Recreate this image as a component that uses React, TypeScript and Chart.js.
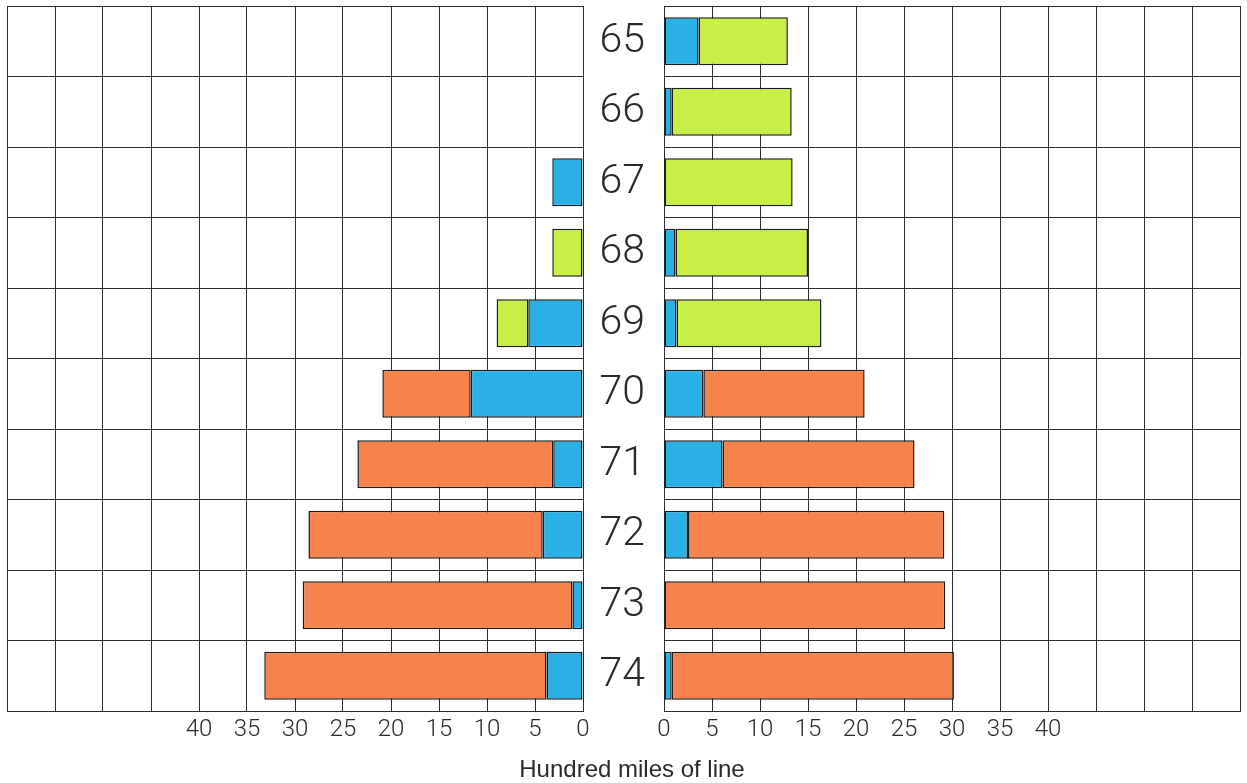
import React, { useEffect, useRef } from 'react';
import { Chart, registerables } from 'chart.js';

Chart.register(...registerables);

// ---- data ----
const years = ['65', '66', '67', '68', '69', '70', '71', '72', '73', '74'];

const leftBlue = [null, null, 3.2, null, 5.7, 11.7, 3.1, 4.2, 1.1, 3.8];
const leftGreen = [null, null, null, 3.2, 3.3, null, null, null, null, null];
const leftOrange = [null, null, null, null, null, 9.2, 20.4, 24.4, 28.1, 29.4];

const rightBlue = [3.6, 0.8, null, 1.2, 1.3, 4.1, 6.1, 2.5, null, 0.8];
const rightGreen = [9.3, 12.5, 13.4, 13.8, 15.1, null, null, null, null, null];
const rightOrange = [null, null, null, null, null, 16.8, 20.0, 26.7, 29.3, 29.4];

const axisMax = 60;
const axisStep = 5;
const labelledMax = 40;
const axisTitle = 'Hundred miles of line';

// ---- styles ----
const FONT = "'Liberation Sans', Arial, Helvetica, sans-serif";
const LIGHT_FONT = "Roboto, 'Liberation Sans', Arial, sans-serif";
const BLUE = '#2bb0e6';
const GREEN = '#c8ef46';
const ORANGE = '#f6834b';
const GRID = '#2b2b2b';
const TEXT = '#2a2a2a';

function buildDatasets(blue: (number | null)[], green: (number | null)[], orange: (number | null)[]) {
  const common = {
    borderColor: '#1a1a1a',
    borderWidth: 1.5,
    borderSkipped: false as const,
    barPercentage: 0.68,
    categoryPercentage: 1,
  };
  return [
    { label: 'blue', data: blue, backgroundColor: BLUE, ...common },
    { label: 'green', data: green, backgroundColor: GREEN, ...common },
    { label: 'orange', data: orange, backgroundColor: ORANGE, ...common },
  ];
}

function buildOptions(side: 'left' | 'right'): any {
  const isLeft = side === 'left';
  return {
    indexAxis: 'y',
    responsive: true,
    maintainAspectRatio: false,
    animation: false,
    events: [],
    layout: {
      padding: isLeft
        ? { left: 7, right: 7, top: 6, bottom: 0 }
        : { left: 0, right: 7, top: 6, bottom: 0 },
    },
    plugins: {
      legend: { display: false },
      tooltip: { enabled: false },
      title: { display: false },
    },
    scales: {
      x: {
        type: 'linear',
        stacked: true,
        reverse: isLeft,
        min: 0,
        max: axisMax,
        position: 'bottom',
        ticks: {
          stepSize: axisStep,
          autoSkip: false,
          maxRotation: 0,
          padding: 5,
          color: TEXT,
          font: { family: LIGHT_FONT, size: 24, weight: '300' },
          callback: (v: number) => (v <= labelledMax ? String(v) : ''),
        },
        grid: { color: GRID, lineWidth: 1, drawTicks: false },
        border: { color: GRID, width: 1 },
        afterFit: (s: any) => {
          s.height = 72;
          s.paddingLeft = 0;
          s.paddingRight = 0;
        },
      },
      y: {
        type: 'category',
        stacked: true,
        position: isLeft ? 'right' : 'left',
        offset: true,
        ticks: isLeft
          ? { display: false }
          : {
              display: true,
              padding: 19,
              color: TEXT,
              font: { family: LIGHT_FONT, size: 41, weight: '300' },
            },
        grid: { color: GRID, lineWidth: 1, drawTicks: false, offset: true },
        border: { color: GRID, width: 1 },
        afterFit: (s: any) => {
          s.width = isLeft ? 0 : 74;
          s.paddingTop = 0;
          s.paddingBottom = 0;
        },
      },
    },
  };
}

function Panel(props: {
  side: 'left' | 'right';
  left: number;
  width: number;
  blue: (number | null)[];
  green: (number | null)[];
  orange: (number | null)[];
}) {
  const ref = useRef<HTMLCanvasElement | null>(null);
  useEffect(() => {
    if (!ref.current) return;
    const chart = new Chart(ref.current, {
      type: 'bar',
      data: {
        labels: years,
        datasets: buildDatasets(props.blue, props.green, props.orange) as any,
      },
      options: buildOptions(props.side),
    });
    return () => chart.destroy();
  }, []);
  return (
    <div
      style={{
        position: 'absolute',
        left: props.left,
        top: 0,
        width: props.width,
        height: 783,
      }}
    >
      <canvas ref={ref} />
    </div>
  );
}

export default function App() {
  return (
    <div>
      <Panel side="left" left={0} width={590} blue={leftBlue} green={leftGreen} orange={leftOrange} />
      <Panel side="right" left={590} width={657} blue={rightBlue} green={rightGreen} orange={rightOrange} />
      <div
        style={{
          position: 'absolute',
          left: 382,
          width: 500,
          top: 757,
          textAlign: 'center',
          fontFamily: FONT,
          fontSize: 24,
          lineHeight: '24px',
          color: TEXT,
          whiteSpace: 'nowrap',
        }}
      >
        {axisTitle}
      </div>
    </div>
  );
}
